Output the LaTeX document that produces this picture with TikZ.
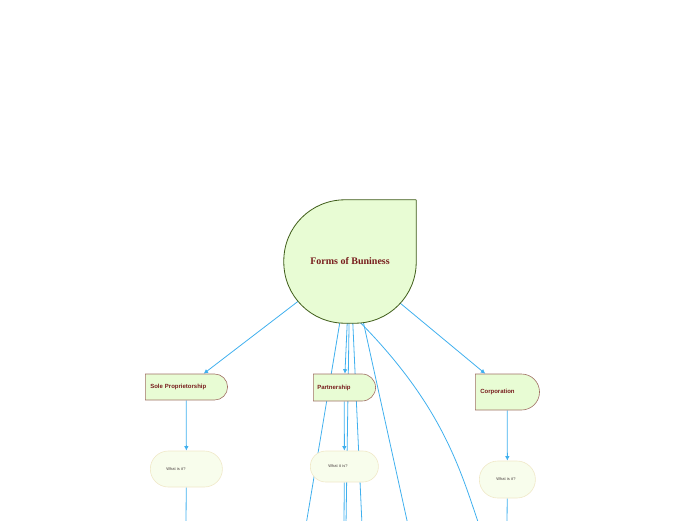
\documentclass[tikz,border=0pt]{standalone}
\usepackage{fontspec}
\setmainfont{Liberation Serif}
\newfontfamily\labelfont{Liberation Sans}
\usetikzlibrary{shapes.misc,arrows.meta,backgrounds}

\definecolor{linkblue}{RGB}{64,176,238}
\definecolor{leaf}{RGB}{232,252,212}
\definecolor{mainline}{RGB}{62,92,24}
\definecolor{boxline}{RGB}{160,112,100}
\definecolor{titlered}{RGB}{120,30,30}
\definecolor{paleleaf}{RGB}{248,253,236}
\definecolor{cream}{RGB}{240,232,200}
\definecolor{qtext}{RGB}{70,60,60}

\newcommand*{\ybottom}{525}

\begin{document}
\begin{tikzpicture}
[
	x=1pt,y=-1pt,
	link/.style={draw=linkblue,line width=0.8pt},
	arrowlink/.style={link,-{Latex[length=4.5pt,width=4.5pt]}},
	topic/.style={rounded rectangle,rounded rectangle west arc=none,draw=boxline,fill=leaf,line width=0.6pt,text=titlered,font=\labelfont\bfseries\fontsize{6}{7}\selectfont,align=left,inner ysep=0pt,anchor=west},
	question/.style={rounded rectangle,draw=cream,fill=paleleaf,line width=0.6pt,text=qtext,font=\labelfont\fontsize{4}{5}\selectfont,align=left,inner ysep=0pt,anchor=west}
]

	\useasboundingbox (0,0) rectangle (696,520);

	% main topic
	\node[minimum width=132pt,minimum height=123pt,inner sep=0pt,text=titlered,font=\bfseries\fontsize{10}{12}\selectfont] (main) at (350,261.5) {Forms of Buniness};

	% topics
	\node[topic,inner xsep=5pt,text width=72pt,minimum height=26pt] (sole) at (145,387) {Sole Proprietorship};
	\node[topic,inner xsep=4pt,text width=54pt,minimum height=27pt] (partner) at (313,387.5) {Partnership};
	\node[topic,inner xsep=5pt,text width=54pt,minimum height=36pt] (corp) at (475,392) {Corporation};

	% subtopics
	\node[question,inner xsep=16pt,text width=40pt,minimum height=36pt] (whatS) at (150,469) {What is it?};
	\node[question,inner xsep=18pt,text width=32pt,minimum height=31pt] (whatP) at (310,466.5) {What it is?};
	\node[question,inner xsep=17pt,text width=22pt,minimum height=37pt] (whatC) at (479,479.5) {What is it?};

	% loose ends below the frame
	\coordinate (endA) at (306,\ybottom);
	\coordinate (endB) at (346,\ybottom);
	\coordinate (endC) at (362,\ybottom);
	\coordinate (endD) at (408,\ybottom);
	\coordinate (endE) at (479,\ybottom);
	\coordinate (endS) at (186,\ybottom);
	\coordinate (endP) at (344,\ybottom);
	\coordinate (endQ) at (507,\ybottom);

	\begin{scope}[on background layer]
		% links
		\draw[arrowlink] (main.center) -- (sole);
		\draw[arrowlink] (main.center) -- (partner);
		\draw[arrowlink] (main.center) -- (corp);
		\draw[link] (main.center) -- (endA);
		\draw[link] (main.center) -- (endB);
		\draw[link] (main.center) -- (endC);
		\draw[link] (main.center) -- (endD);
		\draw[link] ([xshift=6pt,yshift=5pt]main.south) .. controls +(84,84) and +(-20,-60) .. (endE);

		\draw[arrowlink] (sole) -- (whatS);
		\draw[arrowlink] (partner) -- (whatP);
		\draw[arrowlink] (corp) -- (whatC);
		\draw[link] (whatS) -- (endS);
		\draw[link] (whatP) -- (endP);
		\draw[link] (whatC) -- (endQ);

		% main shape
		\path[draw=mainline,fill=leaf,line width=0.8pt,rounded corners=61pt] (main.north east) -- (main.south east) -- (main.south west) -- (main.north west) -- (main.north east);
	\end{scope}

\end{tikzpicture}
\end{document}
